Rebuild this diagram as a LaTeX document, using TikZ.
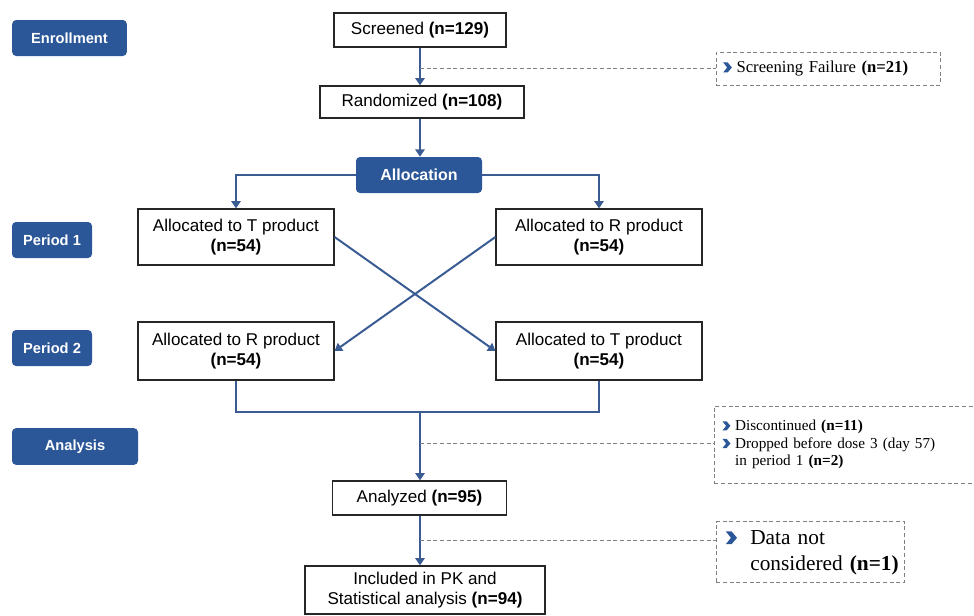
\documentclass[tikz,border=0pt]{standalone}
\usepackage{fontspec}
\setmainfont{Liberation Sans}
\newfontfamily\notefont{Liberation Serif}
\usetikzlibrary{arrows.meta}

\definecolor{phaseblue}{HTML}{2B5697}
\definecolor{linkblue}{HTML}{3A5C93}
\definecolor{notegray}{HTML}{808080}

% small blue chevron used as bullet in the side notes
\newcommand{\chev}{\tikz[baseline=0pt,x=0.075em,y=0.075em]
  \fill[phaseblue] (0,8)--(3.6,8)--(7,4)--(3.6,0)--(0,0)--(3.2,4)--cycle;}

\begin{document}
\begin{tikzpicture}
  [x=0.75pt, y=-0.75pt,
   phase/.style={fill=phaseblue, text=white, rounded corners=3pt, inner sep=0pt,
                 font=\bfseries\fontsize{11}{13}\selectfont},
   box/.style={draw=black!85, line width=0.9pt, fill=white, align=center, inner sep=2pt,
               font=\fontsize{12.8}{15.5}\selectfont},
   note/.style={draw=notegray, dashed, dash pattern=on 3pt off 2pt, line width=0.7pt,
                anchor=west, align=left, inner xsep=5pt},
   link/.style={draw=linkblue, line width=1.5pt, -{Triangle[length=5.5pt,width=7pt]}},
   line/.style={draw=linkblue, line width=1.5pt},
   dashline/.style={draw=notegray, dashed, dash pattern=on 3pt off 2pt, line width=0.7pt}]
  \useasboundingbox (0,0) rectangle (974,615);

  % phase labels on the left
  \node[phase, minimum width=86pt, minimum height=27pt] (enrol) at (69.5,38) {Enrollment};
  \node[phase, minimum width=60pt, minimum height=27pt] (per1) at (52,240) {Period 1};
  \node[phase, minimum width=60pt, minimum height=27pt] (per2) at (52,348) {Period 2};
  \node[phase, minimum width=94.5pt, minimum height=27.5pt] (analy) at (75,446.5) {Analysis};

  % main flow
  \node[box, minimum width=129pt, minimum height=25.5pt] (scr) at (420,30) {Screened \textbf{(n=129)}};
  \node[box, minimum width=153pt, minimum height=24pt] (rand) at (422,102) {Randomized \textbf{(n=108)}};
  \node[phase, minimum width=94.5pt, minimum height=27pt,
        font=\bfseries\fontsize{12}{14}\selectfont] (alloc) at (419,175) {Allocation};
  \node[box, minimum width=147pt, minimum height=42pt] (t1) at (236,237)
    {Allocated to T product\\\textbf{(n=54)}};
  \node[box, minimum width=154.5pt, minimum height=42pt] (r1) at (599,237)
    {Allocated to R product\\\textbf{(n=54)}};
  \node[box, minimum width=147pt, minimum height=43.5pt] (r2) at (236,351)
    {Allocated to R product\\\textbf{(n=54)}};
  \node[box, minimum width=154.5pt, minimum height=43.5pt] (t2) at (599,351)
    {Allocated to T product\\\textbf{(n=54)}};
  \node[box, minimum width=130pt, minimum height=25.5pt] (ana) at (419.5,498) {Analyzed \textbf{(n=95)}};
  \node[box, minimum width=180pt, minimum height=36pt] (incl) at (425,590)
    {Included in PK and\\Statistical analysis \textbf{(n=94)}};

  % side notes
  \node[note, text width=158pt, minimum height=24.75pt,
        font=\notefont\fontsize{12.5}{15}\selectfont] (fail) at (716,68.5)
    {\chev\hspace{3.5pt}Screening Failure \textbf{(n=21)}};
  \node[note, text width=186pt, minimum height=57.75pt, inner xsep=6pt,
        font=\notefont\fontsize{11.4}{13.2}\selectfont] (drop) at (714,444.5)
    {\begin{tabular}{@{}l@{\hspace{3.5pt}}l@{}}
       \chev & Discontinued \textbf{(n=11)}\\
       \chev & Dropped before dose 3 (day 57)\\
             & in period 1 \textbf{(n=2)}
     \end{tabular}};
  \node[note, text width=127pt, minimum height=43.5pt, inner xsep=7pt,
        font=\notefont\fontsize{16}{19.5}\selectfont] (dnc) at (716,552)
    {\begin{tabular}{@{}l@{\hspace{10pt}}l@{}}
       \chev & Data not\\
             & considered \textbf{(n=1)}
     \end{tabular}};

  % connectors
  \coordinate (f1) at (420,68);
  \coordinate (merge) at (420,412);
  \coordinate (f2) at (420,443);
  \coordinate (f3) at (420,540);

  \draw[link] (scr.south) -- (scr.south |- rand.north);
  \draw[dashline] (f1) -- (f1 -| fail.west);
  \draw[link] (scr.south |- rand.south) -- (scr.south |- alloc.north);
  \draw[link] (alloc.west) -| (t1.north);
  \draw[link] (alloc.east) -| (r1.north);
  \draw[link] (t1.east) -- (t2.west);
  \draw[link] (r1.west) -- (r2.east);
  \draw[line] (r2.south) |- (merge) -| (t2.south);
  \draw[link] (merge) -- (merge |- ana.north);
  \draw[dashline] (f2) -- (f2 -| drop.west);
  \draw[link] (merge |- ana.south) -- (merge |- incl.north);
  \draw[dashline] (f3) -- (f3 -| dnc.west);
\end{tikzpicture}
\end{document}
